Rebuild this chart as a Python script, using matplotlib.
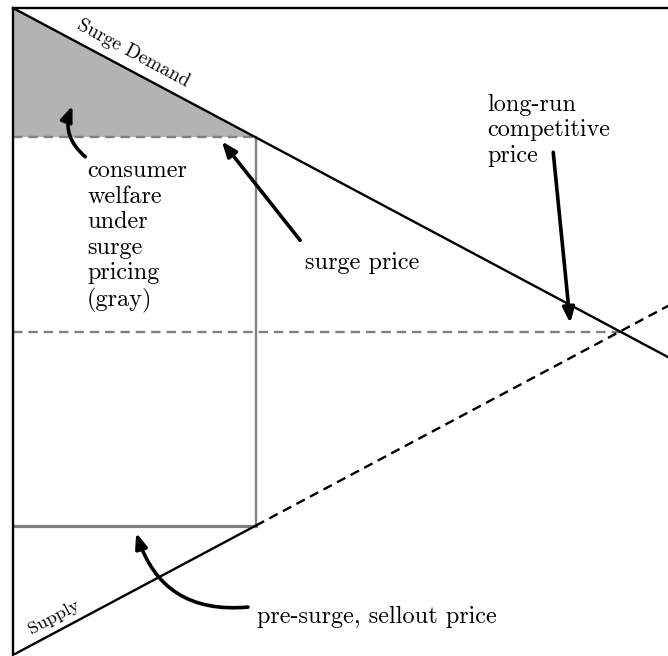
import matplotlib
matplotlib.use("Agg")
import matplotlib.pyplot as plt

# ---- data (quantity q, price p) ----
demand_q = [0.0, 0.4, 1.0, 1.08]
demand_p = [1.0, 0.8, 0.5, 0.46]
supply_solid_q = [0.0, 0.4]
supply_solid_p = [0.0, 0.2]
supply_dash_q = [0.4, 1.08]
supply_dash_p = [0.2, 0.54]
surge_q = 0.4
surge_p = 0.8
sellout_p = 0.2
competitive_q = 1.0
competitive_p = 0.5

plt.rcParams['font.family'] = ['cmr10', 'DejaVu Serif']
plt.rcParams['mathtext.fontset'] = 'cm'

fig = plt.figure(figsize=(6.68, 6.56), dpi=100)
ax = fig.add_axes([13/668, 1/656, 655/668, 647/656])
ax.set_xlim(0, 655/607)
ax.set_ylim(0, 1.0)
ax.set_xticks([])
ax.set_yticks([])
for s in ['right', 'bottom']:
    ax.spines[s].set_visible(False)
for s in ['left', 'top']:
    ax.spines[s].set_linewidth(1.7)

gray = '#808080'
# consumer welfare triangle
ax.fill([0, 0, surge_q], [demand_p[0], surge_p, surge_p], color='#b3b3b3', lw=0, zorder=1)

# gray guide lines
ax.plot([0, surge_q], [surge_p, surge_p], color=gray, lw=1.7, ls=(0, (4, 2.5)), zorder=2)
ax.plot([surge_q, surge_q], [sellout_p, surge_p], color=gray, lw=1.7, zorder=2)
ax.plot([0, surge_q], [sellout_p, sellout_p], color=gray, lw=2.3, zorder=2)
ax.plot([0, competitive_q], [competitive_p, competitive_p], color=gray, lw=1.7,
        ls=(0, (4, 2.5)), zorder=2)

# demand / supply
ax.plot(demand_q, demand_p, color='black', lw=1.7, zorder=3)
ax.plot(supply_solid_q, supply_solid_p, color='black', lw=1.7, zorder=3)
ax.plot(supply_dash_q, supply_dash_p, color='black', lw=1.7, ls=(0, (4, 2.5)), zorder=3)

fs = 17.5
ls = 1.2
ax.text(0.198, 0.930, 'Surge Demand', rotation=-28, ha='center', va='center',
        fontsize=14, rotation_mode='anchor')
ax.text(0.068, 0.058, 'Supply', rotation=28, ha='center', va='center',
        fontsize=13.3, rotation_mode='anchor')

ax.text(0.122, 0.765, 'consumer\nwelfare\nunder\nsurge\npricing\n(gray)',
        ha='left', va='top', fontsize=fs, linespacing=ls)
ax.text(0.481, 0.606, 'surge price', ha='left', va='center', fontsize=fs)
ax.text(0.781, 0.868, 'long-run\ncompetitive\nprice', ha='left', va='top',
        fontsize=fs, linespacing=ls)
ax.text(0.402, 0.059, 'pre-surge, sellout price', ha='left', va='center', fontsize=fs)

aprops = dict(arrowstyle='-|>,head_length=0.9,head_width=0.35', color='black', lw=2.6,
              shrinkA=0, shrinkB=0)
ax.annotate('', xy=(0.098, 0.849), xytext=(0.119, 0.77),
            arrowprops=dict(aprops, connectionstyle='arc3,rad=-0.35'))
ax.annotate('', xy=(0.344, 0.794), xytext=(0.473, 0.641), arrowprops=aprops)
ax.annotate('', xy=(0.918, 0.513), xytext=(0.890, 0.777), arrowprops=aprops)
ax.annotate('', xy=(0.203, 0.189), xytext=(0.387, 0.074),
            arrowprops=dict(aprops, connectionstyle='arc3,rad=-0.4'))

fig.savefig('out.png', dpi=100)
